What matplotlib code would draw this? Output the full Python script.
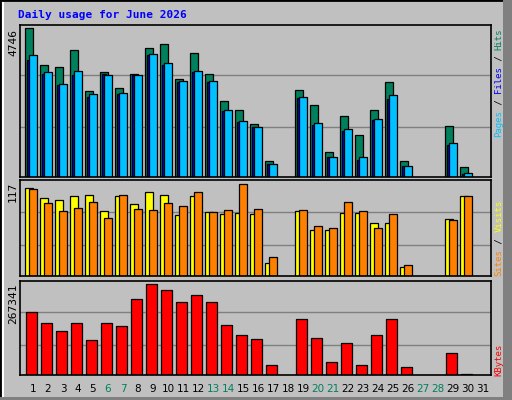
import matplotlib
matplotlib.use("Agg")
import matplotlib.pyplot as plt
from matplotlib.patches import Rectangle
import numpy as np

days = list(range(1, 32))
weekends = [6, 7, 13, 14, 20, 21, 27, 28]
# zero = no data
hits =  [4746,3555,3490,4037,2749,3361,2846,3297,4102,4231,3136,3941,3297,2427,2137,1686,494,0,2760,2298,784,1944,1332,2137,3039,494,0,0,1621,333,0]
files = [3726,3275,2921,3243,2556,3275,2652,3243,3887,3565,3017,3340,3017,2115,1761,1589,430,0,2523,1654,623,1471,537,1826,2491,344,0,0,1009,107,0]
pages = [3887,3361,2975,3393,2652,3264,2685,3264,3909,3619,3071,3393,3071,2137,1783,1589,430,0,2556,1718,623,1525,623,1847,2620,365,0,0,1074,140,0]
visits = [112,99,97,102,103,83,102,91,107,103,77,102,81,79,80,79,16,0,83,58,58,80,80,67,67,11,0,0,72,102,0]
sites  = [111,93,83,86,94,74,103,85,84,93,89,107,81,84,117,85,24,0,84,63,61,94,83,61,79,14,0,0,71,102,0]
kbytes = [185071,152747,129243,152747,102800,152747,143934,223251,267341,249715,214437,235025,214437,146872,117492,105738,29373,0,164497,108676,38186,93986,29373,117492,164497,23499,0,0,64621,2937,0]
month_title = "Daily usage for June 2026"

W, H = 512, 400
fig = plt.figure(figsize=(5.12, 4.0), dpi=100)
fig.patch.set_facecolor("#c0c0c0")
BG = "#c0c0c0"
mono = "DejaVu Sans Mono"

# 3D frame
fig.add_artist(Rectangle((0, 0), 1, 1, transform=fig.transFigure, fill=False, ec="black", lw=2))
fig.add_artist(Rectangle((503/W, 0), 9/W, 1, transform=fig.transFigure, fc="#808080", ec="none"))
fig.add_artist(Rectangle((0, 0), 1, 3/H, transform=fig.transFigure, fc="#808080", ec="none"))
fig.add_artist(Rectangle((2/W, 3/H), 1.5/W, 1-5/H, transform=fig.transFigure, fc="white", ec="none"))

fig.text(18/W, 1-15/H, month_title, color="#0000ff", fontsize=8, fontweight="bold",
         family=mono, va="center", ha="left")

def px_axes(x0, y0, x1, y1):
    return fig.add_axes([x0/W, 1-y1/H, (x1-x0)/W, (y1-y0)/H])

xl = (1 - 13/15, 1 - 13/15 + 471/15)
x = np.array(days, dtype=float)

def style(ax, ymax, gridfr):
    ax.set_facecolor(BG)
    ax.set_xlim(*xl)
    ax.set_ylim(0, ymax)
    for g in gridfr:
        ax.axhline(ymax*g, color="#808080", lw=1, zorder=0)
    ax.set_xticks([]); ax.set_yticks([])
    for s in ax.spines.values():
        s.set_color("black"); s.set_linewidth(1.2)

def bars(ax, vals, off, w, color):
    v = np.array(vals, dtype=float)
    m = v > 0
    ax.bar(x[m] + off/15, v[m], width=w/15, align="edge", color=color,
           edgecolor="black", linewidth=0.9, zorder=2)

ax1 = px_axes(20, 25, 491, 177)
style(ax1, 4746*150/147, [0.67, 0.33])
bars(ax1, hits, -8, 7.5, "#00805c")
bars(ax1, files, -6.3, 4.5, "#0000ff")
bars(ax1, pages, -3.6, 7.4, "#00c0ff")

ax2 = px_axes(20, 180, 491, 276)
style(ax2, 117*96/92, [0.67, 0.32])
bars(ax2, visits, -8, 7.5, "#ffff00")
bars(ax2, sites, -4.3, 8, "#ff8000")

ax3 = px_axes(20, 281, 491, 375)
style(ax3, 267341*94/91, [0.67, 0.32])
bars(ax3, kbytes, -7, 10.5, "#ff0000")

for d in days:
    fig.text((33 + 15*(d-1))/W, 1-389/H, str(d), ha="center", va="center",
             fontsize=7.5, family="DejaVu Sans",
             color="#00805c" if d in weekends else "black")

for txt, ytop in [("4746", 29), ("117", 182), ("267341", 283)]:
    fig.text(13/W, 1-ytop/H, txt, rotation=90, ha="center", va="top",
             fontsize=8, family=mono, color="black")

def vstack(parts, xpx, ybot):
    y = ybot
    for t, c in parts:
        fig.text(xpx/W, 1-y/H, t, rotation=90, ha="center", va="bottom",
                 fontsize=6.5, family=mono, color=c)
        y -= 5.45*len(t)

vstack([("Pages", "#00c0ff"), (" / ", "black"), ("Files", "#0000ff"), (" / ", "black"), ("Hits", "#00805c")], 499, 137)
vstack([("Sites", "#ff8000"), (" / ", "black"), ("Visits", "#ffff00")], 499, 276)
vstack([("KBytes", "#ff0000")], 499, 376)

fig.savefig("out.png", dpi=100, facecolor=fig.get_facecolor())
